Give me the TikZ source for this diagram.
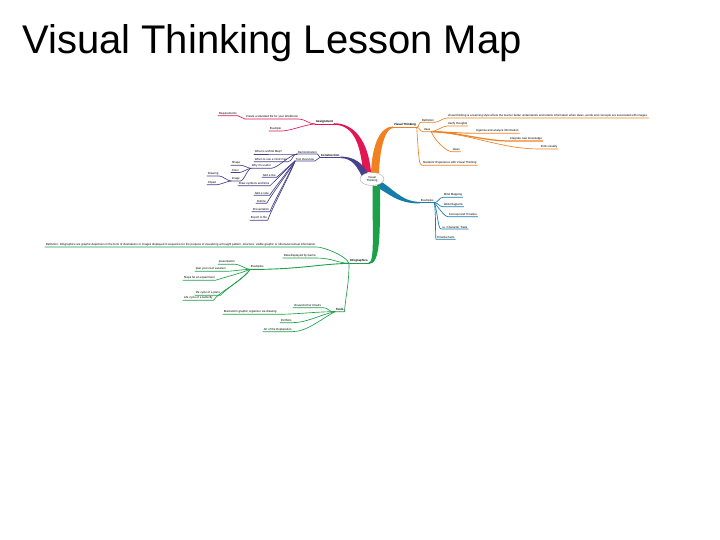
\documentclass[tikz,border=0pt]{standalone}
\usepackage{fontspec}
\setmainfont{Liberation Sans}
\usetikzlibrary{calc,shapes.geometric}
\definecolor{cred}{RGB}{228,22,82}
\definecolor{cpur}{RGB}{72,64,140}
\definecolor{corg}{RGB}{240,128,32}
\definecolor{cblu}{RGB}{22,124,168}
\definecolor{cgrn}{RGB}{28,160,72}
\begin{document}
\begin{tikzpicture}[x=1pt,y={(0pt,-1pt)},
  lbl/.style={font=\fontsize{2.9}{3.2}\selectfont, inner xsep=0.6pt, inner ysep=0.5pt, anchor=south west, text=black},
  topic/.style={lbl, font=\fontsize{3}{3.3}\selectfont\bfseries},
  cn/.style={line width=0.65pt, line cap=round},
  hubstyle/.style={ellipse, draw=gray!70, fill=white, line width=0.4pt, minimum width=24pt, minimum height=13pt, inner sep=0pt, align=center, font=\fontsize{2.9}{3.3}\selectfont},
]
\useasboundingbox (0,0) rectangle (720,540);
\fill[white] (0,0) rectangle (720,540);
\node[anchor=base west, font=\fontsize{40}{44}\selectfont, inner sep=0pt] (title) at (22,54) {Visual Thinking Lesson Map};

\coordinate (ctr) at (372,179);

% ---------------- red branch
\node[topic] (asg) at (315,124) {Assignment};
\node[lbl] (crt) at (245,119) {Create a standard file for your Workbook};
\node[lbl] (req) at (218,115.7) {Requirements};
\node[lbl] (exm) at (269,131) {Example};
\fill[cred] ([yshift=0.8pt]asg.south east) .. controls +(20,0) and +(-3,-32) .. ($(ctr)+(-1,-7)$) -- ($(ctr)+(-9,-7)$) .. controls +(-3,-32) and +(18,0) .. ([yshift=-0.8pt]asg.south east) -- cycle;
\draw[cred,cn] (asg.south west) -- (asg.south east);
\draw[cred,cn] (asg.south west) .. controls +(-6,0) and +(6,0) .. (crt.south east) -- (crt.south west);
\draw[cred,cn] (asg.south west) .. controls +(-8,0) and +(8,0) .. (exm.south east) -- (exm.south west);
\draw[cred,cn] (crt.south west) .. controls +(-3,0) and +(3,0) .. (req.south east) -- (req.south west);

% ---------------- purple branch
\node[topic] (con) at (320,157.3) {Construction};
\node[lbl] (dem) at (297,154) {Demonstration};
\node[lbl] (tov) at (295,161) {Tool Overview};
\node[lbl] (w1) at (254,154) {What is a Mind Map?};
\node[lbl] (w2) at (254,161.7) {When to use a mind map};
\node[lbl] (w3) at (251,168.3) {Why it's useful};
\node[lbl] (shp) at (231,165.3) {Shape};
\node[lbl] (colr) at (231,172.5) {Color};
\node[lbl] (img) at (231,181) {Image};
\node[lbl] (drw) at (207,176) {Drawing};
\node[lbl] (clp) at (207,184.7) {Clipart};
\node[lbl] (adl) at (262,177.3) {Add a line};
\node[lbl] (dsl) at (238,185.7) {Draw symbols and links};
\node[lbl] (adn) at (254,195.3) {Add a note};
\node[lbl] (otl) at (256,203.3) {Outline};
\node[lbl] (prs) at (252,211.7) {Presentation};
\node[lbl] (exf) at (250,220.3) {Export to file};
\fill[cpur] ([yshift=0.8pt]con.south east) .. controls +(14,0) and +(-5,-10) .. ($(ctr)+(-4,-5.5)$) -- ($(ctr)+(-10,-2.5)$) .. controls +(-5,-10) and +(12,0) .. ([yshift=-0.8pt]con.south east) -- cycle;
\draw[cpur,cn] (con.south west) -- (con.south east);
\draw[cpur,cn] (con.south west) .. controls +(-2,0) and +(2,0) .. (dem.south east) -- (dem.south west);
\draw[cpur,cn] (con.south west) .. controls +(-3,0) and +(3,0) .. (tov.south east) -- (tov.south west);
\draw[cpur,cn] (dem.south west) .. controls +(-5,0) and +(5,0) .. (w1.south east) -- (w1.south west);
\draw[cpur,cn] (dem.south west) .. controls +(-5,0) and +(5,0) .. (w2.south east) -- (w2.south west);
\draw[cpur,cn] (dem.south west) .. controls +(-6,0) and +(6,0) .. (w3.south east) -- (w3.south west);
\draw[cpur,cn] (w3.south west) .. controls +(-3,0) and +(3,0) .. (shp.south east) -- (shp.south west);
\draw[cpur,cn] (w3.south west) .. controls +(-3,0) and +(3,0) .. (colr.south east) -- (colr.south west);
\draw[cpur,cn] (w3.south west) .. controls +(-3,0) and +(3,0) .. (img.south east) -- (img.south west);
\draw[cpur,cn] (img.south west) .. controls +(-3,0) and +(3,0) .. (drw.south east) -- (drw.south west);
\draw[cpur,cn] (img.south west) .. controls +(-3,0) and +(3,0) .. (clp.south east) -- (clp.south west);
\draw[cpur,cn] (tov.south west) .. controls +(-4,3) and +(4,-3) .. (adl.south east) -- (adl.south west);
\draw[cpur,cn] (tov.south west) .. controls +(-4,4) and +(4,-4) .. (dsl.south east) -- (dsl.south west);
\draw[cpur,cn] (tov.south west) .. controls +(-4,6) and +(4,-6) .. (adn.south east) -- (adn.south west);
\draw[cpur,cn] (tov.south west) .. controls +(-4,8) and +(4,-8) .. (otl.south east) -- (otl.south west);
\draw[cpur,cn] (tov.south west) .. controls +(-4,10) and +(4,-10) .. (prs.south east) -- (prs.south west);
\draw[cpur,cn] (tov.south west) .. controls +(-4,12) and +(4,-12) .. (exf.south east) -- (exf.south west);

% ---------------- orange branch
\node[topic] (vt) at (393,127.3) {Visual Thinking};
\node[lbl] (def) at (421,122.3) {Definition};
\node[lbl] (use) at (423,131.7) {Uses};
\node[lbl] (dtx) at (447,118) {Visual thinking is a learning style where the learner better understands and retains information when ideas, words and concepts are associated with images.};
\node[lbl] (clar) at (447,126) {clarify thoughts};
\node[lbl] (orgz) at (475,133.3) {organize and analyze information};
\node[lbl] (itg) at (509,141) {integrate new knowledge};
\node[lbl] (thv) at (540,149) {think visually};
\node[lbl] (ide) at (452,151.7) {ideas};
\node[lbl] (stu) at (422,165.3) {Students' Experience with Visual Thinking};
\fill[corg] ([yshift=0.8pt]vt.south west) .. controls +(-13,0) and +(1,-28) .. ($(ctr)+(-1,-6)$) -- ($(ctr)+(7,-6)$) .. controls +(1,-28) and +(-7,0) .. ([yshift=-0.8pt]vt.south west) -- cycle;
\draw[corg,cn] (vt.south west) -- (vt.south east);
\draw[corg,cn] (vt.south east) .. controls +(3,0) and +(-3,0) .. (def.south west) -- (def.south east);
\draw[corg,cn] (vt.south east) .. controls +(3,0) and +(-3,0) .. (use.south west) -- (use.south east);
\draw[corg,cn] (vt.south east) .. controls +(2,30) and +(-3,0) .. (stu.south west) -- (stu.south east);
\draw[corg,cn] (def.south east) .. controls +(4,0) and +(-4,0) .. (dtx.south west) -- (dtx.south east);
\draw[corg,cn] (use.south east) .. controls +(4,0) and +(-4,0) .. (clar.south west) -- (clar.south east);
\draw[corg,cn,line width=0.9pt] (use.south east) .. controls +(12,0) and +(-12,0) .. (orgz.south west) -- (orgz.south east);
\draw[corg,cn,line width=1.2pt] (use.south east) .. controls +(25,0) and +(-25,0) .. (itg.south west) -- (itg.south east);
\draw[corg,cn] (use.south east) .. controls +(40,2) and +(-40,0) .. (thv.south west) -- (thv.south east);
\draw[corg,cn] (use.south east) .. controls +(3,8) and +(-6,0) .. (ide.south west) -- (ide.south east);

% ---------------- blue branch
\node[lbl] (exa) at (420,202.7) {Examples};
\node[lbl] (mm) at (443,197.3) {Mind Mapping};
\node[lbl] (wdg) at (443,206.7) {Web Diagrams};
\node[lbl] (cat) at (448,216.7) {Concept and Timeline};
\node[lbl] (chr) at (441,229) {i.e. Character Traits};
\node[lbl] (tlf) at (436,239.3) {Timeline facts};
\fill[cblu] ($(ctr)+(7.6,1.9)$) .. controls +(12,6) and +(-19,0) .. ([yshift=0.8pt]exa.south west) -- ([yshift=-0.8pt]exa.south west) .. controls +(-23,0) and +(12,6) .. ($(ctr)+(4.4,8.1)$) -- cycle;
\draw[cblu,cn] (exa.south west) -- (exa.south east);
\draw[cblu,cn] (exa.south east) .. controls +(4,0) and +(-4,0) .. (mm.south west) -- (mm.south east);
\draw[cblu,cn] (exa.south east) .. controls +(4,0) and +(-4,0) .. (wdg.south west) -- (wdg.south east);
\draw[cblu,cn] (exa.south east) .. controls +(3,3) and +(-4,0) .. (cat.south west) -- (cat.south east);
\draw[cblu,cn] (exa.south east) .. controls +(3,8) and +(-3,0) .. (chr.south west) -- (chr.south east);
\draw[cblu,cn] (exa.south east) .. controls +(2,15) and +(-1,-5) .. (tlf.south west) -- (tlf.south east);

% ---------------- green branch
\node[topic] (inf) at (349,263.3) {Infographics};
\node[lbl] (gdf) at (45,247) {Definition: Infographics are graphic depictions in the form of illustrations or images displayed in sequence for the purpose of visualizing a thought pattern, structure, visible graphic or otherwise textual information.};
\node[lbl] (dsp) at (283,258) {Data displayed by Genre};
\node[lbl] (gex) at (250,269.3) {Examples};
\node[lbl] (p1) at (218,264.3) {presentation};
\node[lbl] (p2) at (195,271.3) {plan your next vacation};
\node[lbl] (p3) at (183,280.3) {Steps for an experiment};
\node[lbl] (p4) at (195,295.3) {life cycle of a plant};
\node[lbl] (p5) at (183,300.3) {Life cycle of a butterfly};
\node[topic] (tls) at (335,311.7) {Tools};
\node[lbl] (vac) at (293,307.7) {Visual Anchor Charts};
\node[lbl] (bgo) at (223,314.3) {Brainstorm graphic organizer via drawing};
\node[lbl] (pfo) at (280,322.7) {Portfolio};
\node[lbl] (art) at (263,331.7) {Art of the Explanation};
\fill[cgrn] ($(ctr)+(0.5,7)$) .. controls +(0,50) and +(6,0) .. ([yshift=0.8pt]inf.south east) -- ([yshift=-0.8pt]inf.south east) .. controls +(12,0) and +(0,50) .. ($(ctr)+(8,7)$) -- cycle;
\draw[cgrn,cn] (inf.south west) -- (inf.south east);
\draw[cgrn,cn] (inf.south west) .. controls +(-3,-8) and +(6,0) .. (gdf.south east) -- (gdf.south west);
\draw[cgrn,cn] (inf.south west) .. controls +(-10,0) and +(15,0) .. (dsp.south east) -- (dsp.south west);
\draw[cgrn,cn,line width=0.9pt] (inf.south west) .. controls +(-30,1) and +(40,-1) .. (gex.south east) -- (gex.south west);
\draw[cgrn,cn] (inf.south west) .. controls +(0,20) and +(2,-20) .. (tls.south east) -- (tls.south west);
\draw[cgrn,cn] (gex.south west) .. controls +(-4,0) and +(4,0) .. (p1.south east) -- (p1.south west);
\draw[cgrn,cn] (gex.south west) .. controls +(-5,0) and +(5,0) .. (p2.south east) -- (p2.south west);
\draw[cgrn,cn] (gex.south west) .. controls +(-6,3) and +(6,-2) .. (p3.south east) -- (p3.south west);
\draw[cgrn,cn] (gex.south west) .. controls +(-5,8) and +(5,-6) .. (p4.south east) -- (p4.south west);
\draw[cgrn,cn] (gex.south west) .. controls +(-5,10) and +(5,-8) .. (p5.south east) -- (p5.south west);
\draw[cgrn,cn] (tls.south west) .. controls +(-8,0) and +(8,0) .. (vac.south east) -- (vac.south west);
\draw[cgrn,cn] (tls.south west) .. controls +(-20,0) and +(20,0) .. (bgo.south east) -- (bgo.south west);
\draw[cgrn,cn] (tls.south west) .. controls +(-15,3) and +(15,0) .. (pfo.south east) -- (pfo.south west);
\draw[cgrn,cn] (tls.south west) .. controls +(-12,6) and +(15,0) .. (art.south east) -- (art.south west);

% ---------------- hub
\node[hubstyle] (hub) at (ctr) {Visual\\Thinking};
\end{tikzpicture}
\end{document}
